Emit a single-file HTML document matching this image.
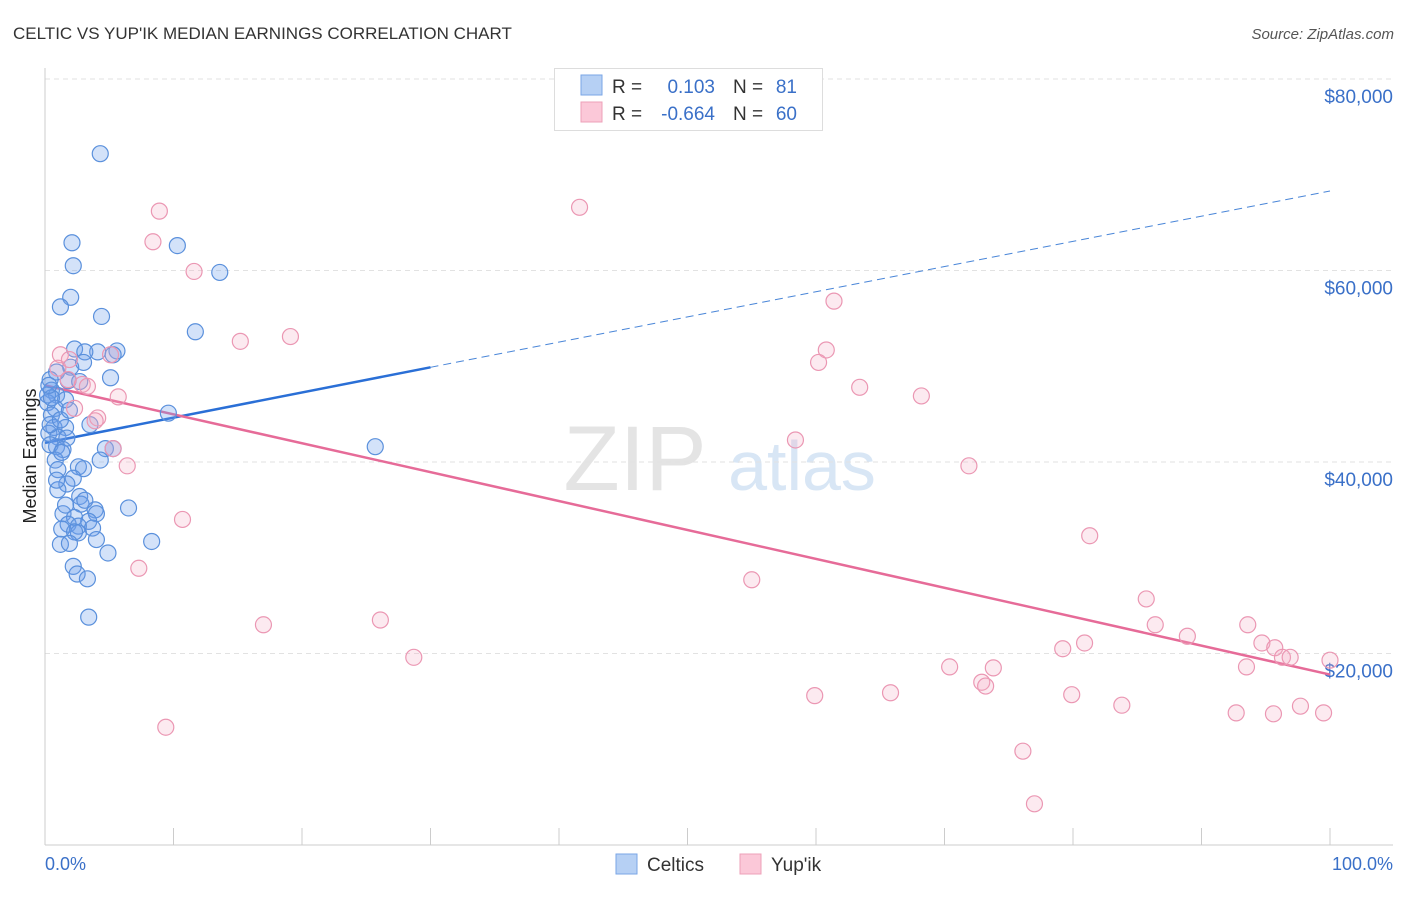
<!DOCTYPE html>
<html><head><meta charset="utf-8"><style>
body{margin:0;background:#fff;font-family:"Liberation Sans",sans-serif}
svg text{font-family:"Liberation Sans",sans-serif}
</style></head><body>
<svg id="c" width="1406" height="892" xmlns="http://www.w3.org/2000/svg">
<text x="13" y="39" font-size="17" fill="#333">CELTIC VS YUP'IK MEDIAN EARNINGS CORRELATION CHART</text>
<text x="1394" y="39" font-size="15" fill="#555" font-style="italic" text-anchor="end">Source: ZipAtlas.com</text>
<g>
<text x="635" y="490" font-size="92" fill="#e4e4e4" font-family="Liberation Serif" text-anchor="middle">ZIP</text>
<text x="802" y="490" font-size="70" fill="#d8e6f5" text-anchor="middle">atlas</text></g>
<g id="grid"></g><g id="axes"></g><g id="trend"></g><g id="pts"></g>
<text x="36" y="456" font-size="18" fill="#222" text-anchor="middle" transform="rotate(-90 36 456)">Median Earnings</text>
<text x="45" y="870" font-size="18" fill="#3a70c8">0.0%</text>
<text x="1393" y="870" font-size="18" fill="#3a70c8" text-anchor="end">100.0%</text>
<g>
<rect x="554.5" y="68.5" width="268" height="62" fill="#fff" stroke="#ddd"/>
<rect x="581" y="75" width="21" height="20" fill="#b6d0f4" stroke="#7aa6e6"/>
<rect x="581" y="102" width="21" height="20" fill="#fbc8d8" stroke="#eea0b8"/>
<text x="612" y="93" font-size="19" fill="#333">R =</text>
<text x="715" y="93" font-size="19" fill="#3a70c8" text-anchor="end">0.103</text>
<text x="733" y="93" font-size="19" fill="#333">N =</text>
<text x="797" y="93" font-size="19" fill="#3a70c8" text-anchor="end">81</text>
<text x="612" y="120" font-size="19" fill="#333">R =</text>
<text x="715" y="120" font-size="19" fill="#3a70c8" text-anchor="end">-0.664</text>
<text x="733" y="120" font-size="19" fill="#333">N =</text>
<text x="797" y="120" font-size="19" fill="#3a70c8" text-anchor="end">60</text></g>
<g>
<rect x="616" y="854" width="21" height="20" fill="#b6d0f4" stroke="#7aa6e6"/>
<text x="647" y="871" font-size="19" fill="#333">Celtics</text>
<rect x="740" y="854" width="21" height="20" fill="#fbc8d8" stroke="#eea0b8"/>
<text x="771" y="871" font-size="19" fill="#333">Yup'ik</text></g>
</svg>
<script>
const yTicks=[20000,40000,60000,80000];
const yTickLabels=["$20,000","$40,000","$60,000","$80,000"];
const celticX=[4.3,2.1,10.3,2.2,13.6,2.0,1.2,4.4,11.7,2.3,4.1,5.6,3.1,5.3,2.0,0.9,3.0,5.1,1.8,0.4,0.5,0.9,1.6,0.2,0.8,9.6,0.5,0.7,1.6,0.3,1.0,1.7,25.7,0.9,1.4,4.7,5.3,4.3,2.6,3.0,2.2,1.7,1.0,2.7,2.8,6.5,3.9,4.0,1.4,2.3,3.4,1.8,2.6,3.7,1.3,2.6,4.0,8.3,1.2,4.9,2.2,2.5,3.3,3.4,0.4,0.4,0.8,0.2,1.2,1.9,3.5,1.6,1.0,0.5,2.7,0.3,1.3,2.3,3.1,1.9,0.9];
const celticY=[72.2,62.9,62.6,60.5,59.8,57.2,56.2,55.2,53.6,51.8,51.5,51.6,51.5,51.2,49.9,49.4,50.4,48.8,48.5,48.6,47.5,47.0,46.5,46.2,45.6,45.1,44.9,43.6,43.6,43.0,42.6,42.5,41.6,41.6,41.3,41.4,41.4,40.2,39.5,39.3,38.3,37.7,37.1,36.4,35.6,35.2,35.0,34.6,34.6,34.2,33.8,33.5,33.3,33.1,33.0,32.6,31.9,31.7,31.4,30.5,29.1,28.3,27.8,23.8,43.9,41.8,40.2,47.0,44.4,45.4,43.9,35.5,39.2,46.7,48.4,48.0,41.0,32.7,36.0,31.5,38.1];
const yupikX=[8.9,41.6,8.4,11.6,61.4,15.2,19.1,60.8,1.2,5.1,60.2,1.0,1.8,2.9,3.3,63.4,68.2,5.7,2.3,4.1,3.9,5.3,58.4,6.4,71.9,10.7,81.3,7.3,55.0,85.7,26.1,17.0,86.4,88.9,93.6,80.9,79.2,94.7,95.7,96.3,96.9,100.0,28.7,70.4,73.8,93.5,72.9,73.2,59.9,65.8,79.9,83.8,97.7,92.7,95.6,99.5,9.4,76.1,77.0,1.9];
const yupikY=[66.2,66.6,63.0,59.9,56.8,52.6,53.1,51.7,51.2,51.2,50.4,49.8,48.6,48.1,47.9,47.8,46.9,46.8,45.6,44.6,44.3,41.4,42.3,39.6,39.6,34.0,32.3,28.9,27.7,25.7,23.5,23.0,23.0,21.8,23.0,21.1,20.5,21.1,20.6,19.6,19.6,19.3,19.6,18.6,18.5,18.6,17.0,16.6,15.6,15.9,15.7,14.6,14.5,13.8,13.7,13.8,12.3,9.8,4.3,50.7];
const celticTrend=[42.0,68.3];
const yupikTrend=[48.0,17.8];
const NS="http://www.w3.org/2000/svg";
const X=p=>45+p*12.85;
const Y=v=>845-v*0.009575;
function mk(t,a,parent){const e=document.createElementNS(NS,t);for(const k in a)e.setAttribute(k,a[k]);document.getElementById(parent).appendChild(e);return e;}
yTicks.forEach((v,i)=>{
 const l=mk('line',{x1:45,x2:1393,y1:Y(v),y2:Y(v),stroke:'#e2e2e2','stroke-dasharray':'5,4'},'grid');
 
 
 const t=mk('text',{x:1393,y:Y(v)+24,'font-size':19,fill:'#3a70c8','text-anchor':'end'},'grid');
 t.textContent=yTickLabels[i];
 
 
});
let a=mk('line',{x1:45,x2:45,y1:68,y2:845,stroke:'#ccc'},'axes');


a=mk('line',{x1:45,x2:1393,y1:845,y2:845,stroke:'#ccc'},'axes');


for(let i=0;i<=10;i++){const t=mk('line',{x1:X(i*10),x2:X(i*10),y1:828,y2:845,stroke:'#ccc'},'axes');
 
 }
function pts(xs,ys,fill,stroke,name){xs.forEach((x,i)=>{const c=mk('circle',{cx:X(x),cy:Y(ys[i]*1000),r:8,fill:fill,stroke:stroke,'stroke-width':1.2},'pts');
 
 });}
pts(celticX,celticY,'rgba(110,160,235,0.3)','#5a90dc','celtic-point');
pts(yupikX,yupikY,'rgba(245,170,195,0.25)','#eb97b3','yupik-point');
const f=(tr,x)=>tr[0]+(tr[1]-tr[0])*x/100;
let l=mk('line',{x1:X(0),y1:Y(f(celticTrend,0)*1000),x2:X(30),y2:Y(f(celticTrend,30)*1000),stroke:'#2a6fd6','stroke-width':2.5},'trend');


l=mk('line',{x1:X(30),y1:Y(f(celticTrend,30)*1000),x2:X(100),y2:Y(f(celticTrend,100)*1000),stroke:'#4a86d8','stroke-width':1,'stroke-dasharray':'8,5'},'trend');


l=mk('line',{x1:X(0),y1:Y(f(yupikTrend,0)*1000),x2:X(100),y2:Y(f(yupikTrend,100)*1000),stroke:'#e66b98','stroke-width':2.5},'trend');


</script>
</body></html>
